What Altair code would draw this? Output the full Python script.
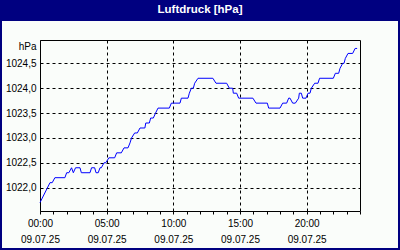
import altair as alt
import pandas as pd

# Luftdruck readings on 09.07.25 (time HH:MM, value hPa)
times = [
    "00:00", "00:45", "00:55", "01:07", "01:52", "02:00", "02:10", "02:22", "02:30", "02:40",
    "03:00", "03:06", "03:45", "03:52", "04:06", "04:12", "04:22", "04:30", "04:36", "04:48",
    "04:56", "05:10", "05:36", "05:45", "06:06", "06:18", "06:36", "06:45", "06:52", "07:06",
    "07:18", "07:30", "07:52", "07:56", "08:12", "08:18", "08:30", "08:40", "08:51", "09:42",
    "09:51", "10:30", "10:36", "11:06", "11:12", "11:21", "11:30", "11:36", "11:51", "12:58",
    "13:12", "14:00", "14:12", "14:27", "14:30", "14:45", "14:54", "15:58", "16:12", "17:03",
    "17:09", "18:00", "18:12", "18:30", "18:39", "18:45", "18:57", "19:09", "19:24", "19:27",
    "19:36", "19:42", "19:57", "20:06", "20:15", "20:21", "20:36", "20:51", "20:58", "22:00",
    "22:09", "22:24", "22:30", "22:42", "22:48", "22:54", "23:06", "23:27", "23:38", "23:47",
]
pressure = [
    1021.7, 1022.1, 1022.1, 1022.2, 1022.2, 1022.3, 1022.3, 1022.4, 1022.3, 1022.4,
    1022.4, 1022.3, 1022.3, 1022.4, 1022.4, 1022.3, 1022.3, 1022.4, 1022.4, 1022.5,
    1022.5, 1022.6, 1022.6, 1022.7, 1022.7, 1022.8, 1022.8, 1022.9, 1023.0, 1023.1,
    1023.1, 1023.2, 1023.2, 1023.3, 1023.3, 1023.4, 1023.4, 1023.5, 1023.6, 1023.6,
    1023.7, 1023.7, 1023.8, 1023.8, 1023.9, 1024.0, 1024.0, 1024.1, 1024.2, 1024.2,
    1024.1, 1024.1, 1024.0, 1024.0, 1023.9, 1023.9, 1023.8, 1023.8, 1023.7, 1023.7,
    1023.6, 1023.6, 1023.7, 1023.7, 1023.8, 1023.8, 1023.7, 1023.7, 1023.8, 1023.9,
    1023.9, 1023.8, 1023.8, 1023.9, 1023.9, 1024.0, 1024.1, 1024.1, 1024.2, 1024.2,
    1024.3, 1024.3, 1024.4, 1024.5, 1024.5, 1024.6, 1024.7, 1024.7, 1024.8, 1024.8,
]
y_ticks = [1022.0, 1022.5, 1023.0, 1023.5, 1024.0, 1024.5]
hour_ticks = list(range(0, 25))
date_label = "09.07.25"
chart_title = "Luftdruck [hPa]"


def to_hours(s):
    h, m = s.split(":")
    return int(h) + int(m) / 60.0


df = pd.DataFrame({"t": [to_hours(s) for s in times], "p": pressure})

NAVY = "#000080"
BG = "#FAFDFA"
FONT = "Liberation Sans"

x_axis = alt.Axis(
    values=hour_ticks,
    title=None,
    domain=False,
    grid=True,
    gridColor="black",
    gridDash=[3, 3],
    gridWidth=1,
    gridOpacity={"condition": {"test": "datum.value % 5 == 0", "value": 1}, "value": 0},
    ticks=True,
    tickColor="black",
    tickSize=3,
    labelExpr=(
        "datum.value % 5 == 0 && datum.value < 24 ? "
        "[(datum.value < 10 ? '0' : '') + datum.value + ':00', '" + date_label + "'] : ''"
    ),
    labelFlush=False,
    labelBound=False,
    labelOverlap=False,
    labelPadding=4,
    labelLineHeight=16,
)

y_axis = alt.Axis(
    values=y_ticks,
    domain=False,
    ticks=False,
    grid=True,
    gridColor="black",
    gridDash=[3, 3],
    gridWidth=1,
    labelExpr="replace(format(datum.value, '.1f'), '.', ',')",
    labelPadding=4,
    title="hPa",
    titleAngle=0,
    titleAlign="right",
    titleBaseline="middle",
    titleX=-4,
    titleY=6,
    titleFontWeight="normal",
)

one = alt.Data(values=[{"a": 1}])

title_bar = alt.Chart(one).mark_rect(color=NAVY).encode(
    x=alt.value(-40), x2=alt.value(360), y=alt.value(-40), y2=alt.value(-19)
)
left_border = alt.Chart(one).mark_rect(color=NAVY).encode(
    x=alt.value(-40), x2=alt.value(-38), y=alt.value(-40), y2=alt.value(211)
)
right_border = alt.Chart(one).mark_rect(color=NAVY).encode(
    x=alt.value(358), x2=alt.value(360), y=alt.value(-40), y2=alt.value(211)
)
bottom_border = alt.Chart(one).mark_rect(color=NAVY).encode(
    x=alt.value(-40), x2=alt.value(360), y=alt.value(208), y2=alt.value(211)
)
title_text = alt.Chart(one).mark_text(
    color="white", font=FONT, fontSize=11.5, fontWeight="bold", align="center", baseline="middle"
).encode(x=alt.value(160), y=alt.value(-30), text=alt.value(chart_title))

line = alt.Chart(df).mark_line(color="#0000FF", strokeWidth=1).encode(
    x=alt.X("t:Q", scale=alt.Scale(domain=[0, 24], nice=False, zero=False), axis=x_axis),
    y=alt.Y("p:Q", scale=alt.Scale(domain=[1021.53, 1024.97], nice=False, zero=False), axis=y_axis),
)

chart = (
    alt.layer(line, title_bar, left_border, right_border, bottom_border, title_text)
    .properties(
        width=320,
        height=171,
        autosize="none",
        padding={"left": 40, "top": 40, "right": 40, "bottom": 39},
        background=BG,
    )
    .configure_view(stroke="black", strokeWidth=1)
    .configure_axis(
        labelFont=FONT, labelFontSize=10, labelColor="black",
        titleFont=FONT, titleFontSize=10, titleColor="black",
    )
)

chart.save("out.html", embed_options={"renderer": "svg", "actions": False})
